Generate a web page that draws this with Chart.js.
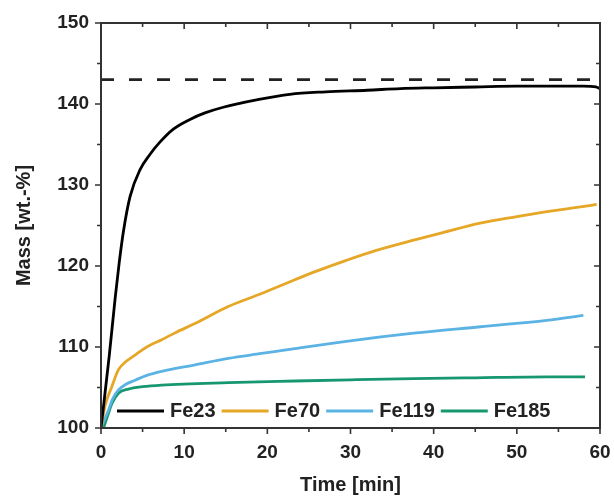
<!DOCTYPE html>
<html lang="en">
<head>
<meta charset="UTF-8">
<title>Mass vs time</title>
<script src="https://cdn.jsdelivr.net/npm/chart.js"></script>
<style>
  html, body { margin: 0; padding: 0; background: #fff; }
  #wrap { width: 614px; height: 498px; }
</style>
</head>
<body>
<div id="wrap"><canvas id="myChart" width="614" height="498"></canvas></div>
<script>
// values
const xTicks = [0, 10, 20, 30, 40, 50, 60];
const yTicks = [100, 110, 120, 130, 140, 150];
const seriesNames = ['Fe23', 'Fe70', 'Fe119', 'Fe185'];
const seriesColors = ['#000000', '#e6a626', '#5bb3e4', '#16976f'];

const fe23Time = [0, 1, 1.7, 2.2, 2.7, 3.5, 4.7, 5.9, 7, 8.7, 10.7, 12.5, 14.7, 18.7, 22.7, 27, 32, 36, 40, 45, 50, 54, 58, 59.5, 60];
const fe23Mass = [100, 109, 116, 120.5, 124.3, 128.6, 131.9, 133.8, 135.2, 136.9, 138.1, 138.9, 139.6, 140.5, 141.2, 141.5, 141.7, 141.9, 142.0, 142.1, 142.2, 142.2, 142.2, 142.1, 141.9];

const fe70Time = [0, 0.5, 1.3, 2.1, 3, 4.1, 5.5, 7.3, 9, 11.3, 15.3, 19.3, 23.3, 26, 29.5, 33, 37.6, 41, 45.6, 50, 53.6, 57, 59.6];
const fe70Mass = [100, 102.8, 105.1, 107.2, 108.2, 109.0, 110.0, 110.9, 111.8, 112.9, 115.0, 116.6, 118.3, 119.4, 120.7, 121.9, 123.2, 124.1, 125.3, 126.1, 126.7, 127.2, 127.6];

const fe119Time = [0, 0.4, 0.9, 1.4, 2.1, 3, 4.1, 5.5, 7.3, 11.3, 15.3, 19.3, 23.3, 29.5, 37.6, 45.6, 53.6, 58];
const fe119Mass = [100, 101, 102.2, 103.6, 104.7, 105.4, 105.9, 106.5, 107.0, 107.8, 108.6, 109.2, 109.8, 110.7, 111.7, 112.5, 113.3, 113.9];

const fe185Time = [0.3, 0.8, 1.3, 2.1, 3.3, 5, 7.3, 15.3, 23.3, 30, 37.6, 45, 53.6, 58.2];
const fe185Mass = [100, 101.5, 103.0, 104.3, 104.8, 105.1, 105.3, 105.6, 105.8, 105.95, 106.1, 106.2, 106.3, 106.3];

const limitTime = [0, 60];
const limitMass = [143, 143];

function pts(t, m) { return t.map((v, i) => ({x: v, y: m[i]})); }

const seriesData = [pts(fe23Time, fe23Mass), pts(fe70Time, fe70Mass), pts(fe119Time, fe119Mass), pts(fe185Time, fe185Mass)];

const datasets = seriesNames.map((n, i) => ({
    label: n,
    data: seriesData[i],
    borderColor: seriesColors[i],
    borderWidth: 2.8,
    pointRadius: 0,
    cubicInterpolationMode: 'monotone',
    fill: false
}));
datasets.push({
    label: 'limit',
    data: pts(limitTime, limitMass),
    borderColor: '#222',
    borderWidth: 2.8,
    borderDash: [13, 15],
    pointRadius: 0,
    fill: false
});

// frame + ticks: out on left/bottom, in on top/right, minor ticks halfway
const framePlugin = {
    id: 'frame',
    afterDraw(chart) {
        const {ctx, chartArea: a, scales: {x, y}} = chart;
        ctx.save();
        ctx.strokeStyle = '#333';
        ctx.lineWidth = 2;
        ctx.strokeRect(a.left, a.top, a.right - a.left, a.bottom - a.top);
        ctx.lineWidth = 1.6;
        ctx.beginPath();
        for (let v = 0; v <= 60; v += 5) {
            const px = x.getPixelForValue(v);
            const len = v % 10 === 0 ? 6 : 4;
            ctx.moveTo(px, a.bottom); ctx.lineTo(px, a.bottom + len);
            ctx.moveTo(px, a.top); ctx.lineTo(px, a.top + len);
        }
        for (let v = 100; v <= 150; v += 5) {
            const py = y.getPixelForValue(v);
            const len = v % 10 === 0 ? 6 : 4;
            ctx.moveTo(a.left, py); ctx.lineTo(a.left - len, py);
            ctx.moveTo(a.right, py); ctx.lineTo(a.right - len, py);
        }
        ctx.stroke();

        // legend inside the plot, along the bottom
        ctx.font = 'bold 20px "Liberation Sans", Arial, sans-serif';
        ctx.textBaseline = 'middle';
        let lx = a.left + 16;
        const ly = a.bottom - 17;
        chart.data.datasets.slice(0, seriesNames.length).forEach(ds => {
            ctx.strokeStyle = ds.borderColor;
            ctx.lineWidth = 3;
            ctx.beginPath();
            ctx.moveTo(lx, ly); ctx.lineTo(lx + 47, ly);
            ctx.stroke();
            lx += 53;
            ctx.fillStyle = '#222';
            ctx.fillText(ds.label, lx, ly);
            lx += ctx.measureText(ds.label).width + 6;
        });
        ctx.restore();
    }
};

const tickFont = {family: '"Liberation Sans", Arial, sans-serif', weight: 'bold', size: 19};
const titleFont = {family: '"Liberation Sans", Arial, sans-serif', weight: 'bold', size: 20};

new Chart(document.getElementById('myChart'), {
    type: 'line',
    data: {datasets: datasets},
    plugins: [framePlugin],
    options: {
        responsive: false,
        animation: false,
        layout: {padding: {top: 23, right: 14, left: 0, bottom: 0}},
        plugins: {legend: {display: false}, tooltip: {enabled: false}},
        scales: {
            x: {
                type: 'linear', min: 0, max: 60,
                afterBuildTicks: s => { s.ticks = xTicks.map(v => ({value: v})); },
                afterFit: s => { s.height = 70; s.paddingRight = 0; s.paddingLeft = 0; },
                grid: {display: false, drawTicks: false},
                border: {display: false},
                ticks: {font: tickFont, color: '#222', padding: 13, maxRotation: 0},
                title: {display: true, text: 'Time [min]', font: titleFont, color: '#222', padding: {top: 0, bottom: 1}}
            },
            y: {
                type: 'linear', min: 100, max: 150,
                afterBuildTicks: s => { s.ticks = yTicks.map(v => ({value: v})); },
                afterFit: s => { s.width = 101; s.paddingTop = 0; s.paddingBottom = 0; },
                grid: {display: false, drawTicks: false},
                border: {display: false},
                ticks: {font: tickFont, color: '#222', padding: 12},
                title: {display: true, text: 'Mass [wt.-%]', font: titleFont, color: '#222', padding: {top: 12, bottom: 0}}
            }
        }
    }
});
</script>
</body>
</html>
